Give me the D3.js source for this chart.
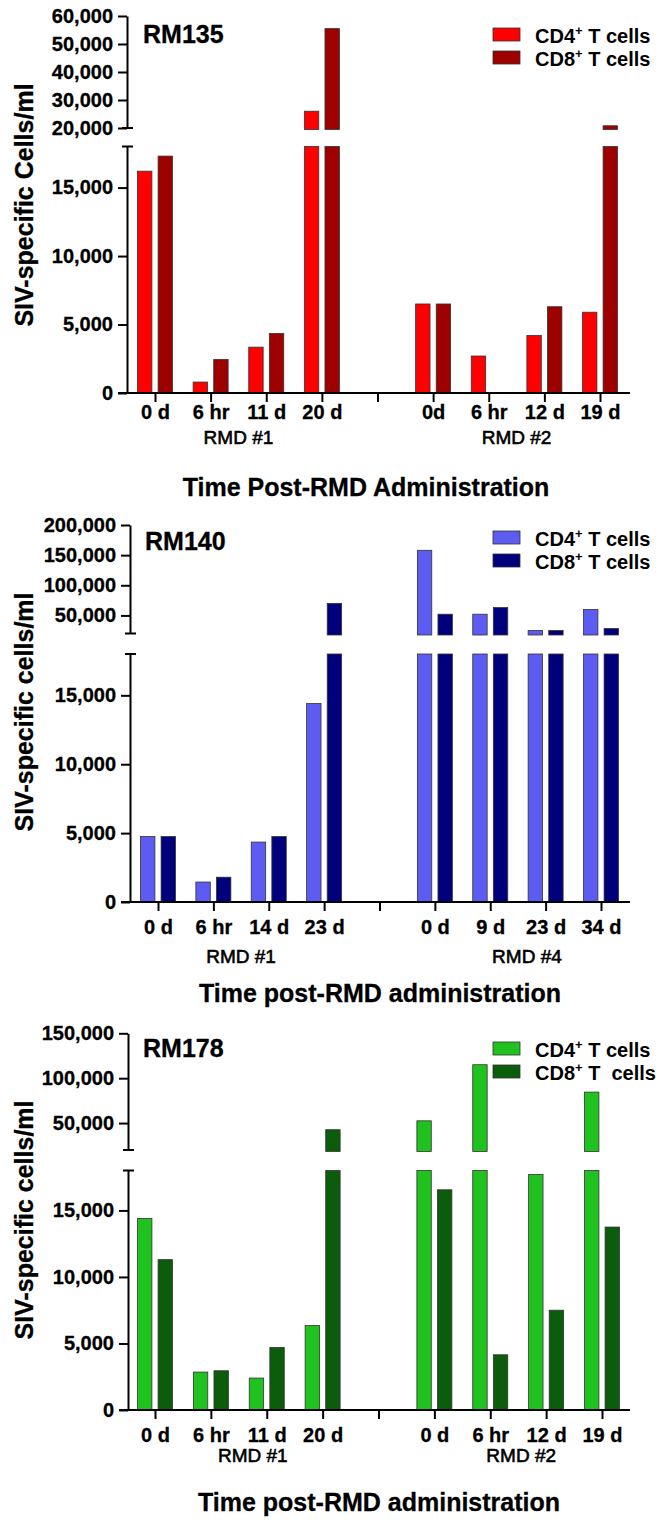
<!DOCTYPE html>
<html>
<head>
<meta charset="utf-8">
<script src="https://cdn.jsdelivr.net/npm/d3@7"></script>
<style>
  body { margin: 0; background: #fff; }
  text { font-family: "Liberation Sans", Arial, sans-serif; }
</style>
</head>
<body>
<svg id="fig"></svg>
<script>
const W = 666, H = 1523;

// ---- data ----
const lowerTicks = [0, 5000, 10000, 15000];

const rm135Times = ["0 d", "6 hr", "11 d", "20 d", "", "0d", "6 hr", "12 d", "19 d"];
const rm135CD4 = [16200, 800, 3350, 26000, null, 6500, 2700, 4200, 5900];
const rm135CD8 = [17300, 2450, 4350, 55500, null, 6500, 40, 6300, 20800];
const rm135Courses = ["RMD #1", "RMD #2"];
const rm135UpperTicks = [20000, 30000, 40000, 50000, 60000];

const rm140Times = ["0 d", "6 hr", "14 d", "23 d", "", "0 d", "9 d", "23 d", "34 d"];
const rm140CD4 = [4750, 1450, 4350, 14400, null, 158000, 52000, 25000, 60000];
const rm140CD8 = [4750, 1800, 4750, 70000, null, 52000, 63000, 25000, 28300];
const rm140Courses = ["RMD #1", "RMD #4"];
const rm140UpperTicks = [50000, 100000, 150000, 200000];

const rm178Times = ["0 d", "6 hr", "11 d", "20 d", "", "0 d", "6 hr", "12 d", "19 d"];
const rm178CD4 = [14400, 2850, 2400, 6350, null, 52500, 115000, 17700, 84500];
const rm178CD8 = [11300, 2950, 4700, 42600, null, 16550, 4150, 7500, 13750];
const rm178Courses = ["RMD #1", "RMD #2"];
const rm178UpperTicks = [50000, 100000, 150000];

const series = ["CD4", "CD8"];
const fmt = d3.format(",");
const BREAK = 18000, UPSTART = 20000;

const svg = d3.select("#fig").attr("width", W).attr("height", H)
  .style("background", "#fff");

function panel(p) {
  const g = svg.append("g");
  const slots = p.times.map((d, i) => String(i));

  const x = d3.scalePoint().domain(slots).range(p.xr);
  const sub = d3.scaleBand().domain(series).range([-17.5, 17.5]).paddingInner(0.3);
  const yLo = d3.scaleLinear().domain([0, BREAK]).range(p.yLo);
  const yHi = d3.scaleLinear().domain([UPSTART, p.upMax]).range(p.yHi);

  // bars
  const rows = [];
  p.times.forEach((t, i) => {
    if (p.cd4[i] == null) return;
    rows.push({slot: String(i), s: "CD4", v: p.cd4[i]});
    rows.push({slot: String(i), s: "CD8", v: p.cd8[i]});
  });
  const color = d3.scaleOrdinal().domain(series).range(p.colors);

  const bx = d => x(d.slot) + sub(d.s);
  g.selectAll("rect.lo").data(rows).join("rect")
    .attr("class", "lo")
    .attr("x", bx)
    .attr("width", sub.bandwidth())
    .attr("y", d => yLo(Math.min(d.v, BREAK)))
    .attr("height", d => yLo(0) - yLo(Math.min(d.v, BREAK)))
    .attr("fill", d => color(d.s))
    .attr("stroke", "#333").attr("stroke-width", 0.8);

  g.selectAll("rect.hi").data(rows.filter(d => d.v > BREAK)).join("rect")
    .attr("class", "hi")
    .attr("x", bx)
    .attr("width", sub.bandwidth())
    .attr("y", d => yHi(d.v))
    .attr("height", d => yHi(UPSTART) - yHi(d.v) + 1.5)
    .attr("fill", d => color(d.s))
    .attr("stroke", "#333").attr("stroke-width", 0.8);

  // y axes (two segments)
  const styleAxis = a => {
    a.selectAll("path, line").attr("stroke", "#000").attr("stroke-width", 2);
    a.selectAll("text").attr("font-size", 20).attr("font-weight", "bold")
      .attr("font-family", "'Liberation Sans', Arial, sans-serif").attr("fill", "#000")
      .attr("stroke", "#000").attr("stroke-width", 0.3);
  };
  const ax = p.axisX;
  g.append("g").attr("transform", `translate(${ax},0)`)
    .call(d3.axisLeft(yLo).tickValues(lowerTicks).tickFormat(fmt).tickSize(9).tickSizeOuter(0).tickPadding(5))
    .call(styleAxis);
  g.append("g").attr("transform", `translate(${ax},0)`)
    .call(d3.axisLeft(yHi).tickValues(p.upTicks).tickFormat(fmt).tickSize(9).tickSizeOuter(0).tickPadding(5))
    .call(styleAxis);
  // break caps
  g.append("line").attr("x1", ax - 5).attr("x2", ax + 6)
    .attr("y1", yLo(BREAK)).attr("y2", yLo(BREAK)).attr("stroke", "#000").attr("stroke-width", 2);
  g.append("line").attr("x1", ax - 5).attr("x2", ax + 6)
    .attr("y1", yHi(UPSTART)).attr("y2", yHi(UPSTART)).attr("stroke", "#000").attr("stroke-width", 2);

  // x axis
  const xa = g.append("g").attr("transform", `translate(0,${yLo(0)})`)
    .call(d3.axisBottom(x).tickFormat(d => p.times[+d]).tickSize(9).tickPadding(7))
    .call(styleAxis);
  xa.select(".domain").attr("d", `M${ax - 9},0H${p.xEnd}`);
  xa.selectAll("text").attr("font-size", 20).attr("dy", null)
    .attr("y", p.tickDy);

  // treatment course labels
  [[1, 2], [6, 7]].forEach((pair, k) => {
    g.append("text")
      .attr("x", (x(String(pair[0])) + x(String(pair[1]))) / 2 + p.courseDx[k])
      .attr("y", yLo(0) + p.courseDy)
      .attr("text-anchor", "middle")
      .attr("font-size", 19)
      .attr("stroke", "#000").attr("stroke-width", 0.6)
      .text(p.courses[k]);
  });

  // axis titles
  g.append("text")
    .attr("transform", `translate(33,${p.yTitleY}) rotate(-90)`)
    .attr("text-anchor", "middle")
    .attr("font-size", 25).attr("font-weight", "bold")
    .attr("stroke", "#000").attr("stroke-width", 0.3)
    .text(p.yTitle);
  g.append("text")
    .attr("x", p.xTitleX).attr("y", yLo(0) + p.xTitleDy)
    .attr("text-anchor", "middle")
    .attr("font-size", 25).attr("font-weight", "bold")
    .attr("stroke", "#000").attr("stroke-width", 0.3)
    .text(p.xTitle);

  // animal id
  g.append("text")
    .attr("x", p.idX).attr("y", p.idY)
    .attr("font-size", 25).attr("font-weight", "bold")
    .attr("stroke", "#000").attr("stroke-width", 0.3)
    .text(p.id);

  // legend
  const lg = g.append("g").attr("transform", `translate(493,${p.legY})`);
  series.forEach((s, i) => {
    lg.append("rect").attr("x", 0).attr("y", i * 23)
      .attr("width", 27).attr("height", 13)
      .attr("fill", color(s)).attr("stroke", "#333").attr("stroke-width", 0.8);
    const t = lg.append("text").attr("x", 42).attr("y", i * 23 + 15)
      .attr("font-size", 20).attr("font-weight", "bold")
      .style("white-space", "pre");
    t.append("tspan").text(s);
    t.append("tspan").attr("font-size", 13).attr("dy", -8).text("+");
    t.append("tspan").attr("dy", 8).text(p.legTail[i]);
  });
}

panel({
  id: "RM135", idX: 143, idY: 43,
  times: rm135Times, cd4: rm135CD4, cd8: rm135CD8, courses: rm135Courses,
  colors: ["#ff0000", "#9e0000"],
  upMax: 60000, upTicks: rm135UpperTicks,
  xr: [155, 600], xEnd: 630, axisX: 127,
  yLo: [393, 146.5], yHi: [128, 16],
  tickDy: 26, courseDx: [0, 0], courseDy: 51,
  yTitle: "SIV-specific Cells/ml", yTitleY: 205,
  xTitle: "Time Post-RMD Administration", xTitleX: 366, xTitleDy: 103,
  legY: 28, legTail: [" T cells", " T cells"]
});

panel({
  id: "RM140", idX: 145, idY: 550,
  times: rm140Times, cd4: rm140CD4, cd8: rm140CD8, courses: rm140Courses,
  colors: ["#5c5cf2", "#00007c"],
  upMax: 200000, upTicks: rm140UpperTicks,
  xr: [158, 601], xEnd: 630, axisX: 130,
  yLo: [902, 654], yHi: [633.5, 525],
  tickDy: 32, courseDx: [0, 9], courseDy: 61,
  yTitle: "SIV-specific cells/ml", yTitleY: 712,
  xTitle: "Time post-RMD administration", xTitleX: 380, xTitleDy: 100,
  legY: 531, legTail: [" T cells", " T cells"]
});

panel({
  id: "RM178", idX: 143, idY: 1057,
  times: rm178Times, cd4: rm178CD4, cd8: rm178CD8, courses: rm178Courses,
  colors: ["#1fc21f", "#0b5c0b"],
  upMax: 150000, upTicks: rm178UpperTicks,
  xr: [155, 602], xEnd: 630, axisX: 128,
  yLo: [1410, 1170.5], yHi: [1150, 1033.3],
  tickDy: 32, courseDx: [14, 3], courseDy: 52,
  yTitle: "SIV-specific cells/ml", yTitleY: 1220,
  xTitle: "Time post-RMD administration", xTitleX: 379, xTitleDy: 101,
  legY: 1042, legTail: [" T cells", " T  cells"]
});
</script>
</body>
</html>
